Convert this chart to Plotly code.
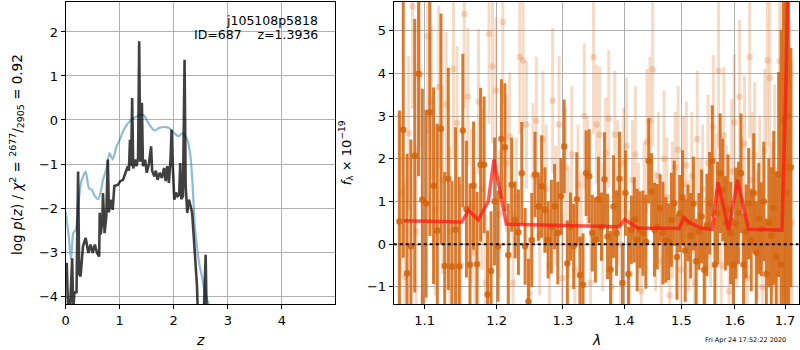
import plotly.graph_objects as go

# ---------------- left panel: log p(z) ----------------
z_black = [0.0, 0.02, 0.05, 0.08, 0.12, 0.14, 0.16, 0.2, 0.23, 0.25,
           0.275, 0.32, 0.37, 0.42, 0.46, 0.5, 0.54, 0.58, 0.62, 0.63,
           0.65, 0.68, 0.69, 0.72, 0.75, 0.78, 0.8, 0.83, 0.87, 0.9,
           0.97, 1.01, 1.06, 1.11, 1.15, 1.17, 1.19, 1.21, 1.23, 1.25,
           1.28, 1.31, 1.34, 1.36, 1.38, 1.41, 1.43, 1.47, 1.5, 1.54,
           1.58, 1.6, 1.64, 1.67, 1.7, 1.74, 1.78, 1.82, 1.85, 1.88,
           1.91, 1.94, 1.96, 1.98, 2.01, 2.04, 2.07, 2.1, 2.12, 2.14,
           2.17, 2.2, 2.22, 2.25, 2.28, 2.31, 2.34, 2.39, 2.43, 2.45,
           2.5, 2.55, 2.59, 2.61, 2.65]
logp_black = [-3.3, -3.25, -4.6, -4.3, -3.14, -4.4, -3.9, -3.93, -1.17, -3.5,
              -3.55, -2.87, -2.68, -3.02, -2.83, -3.02, -2.83, -3.02, -3.1, -2.11,
              -2.6, -2.23, -1.66, -2.57, -2.2, -0.9, -2.1, -1.81, -2.04, -1.5,
              -1.47, -1.39, -1.36, -1.2, -1.05, -1.15, -0.45, -1.05, 0.5, -1.1,
              -0.9, -1.05, -0.85, 1.79, -0.95, 0.39, -1.05, -0.9, -1.2, -1.0,
              -0.6, -1.15, -1.28, -1.15, -1.36, -1.2, -1.32, -1.09, -1.39, -1.05,
              -1.43, -0.9, -0.22, -1.0, -1.81, -1.65, -1.73, -1.7, -0.98, -1.8,
              -1.73, 1.37, -1.5, -2.11, -1.81, -1.95, -2.11, -3.02, -3.78, -4.6,
              -4.6, -4.6, -3.06, -4.6, -4.6]

z_blue = [0.0, 0.05, 0.1, 0.14, 0.19, 0.23, 0.29, 0.37, 0.43, 0.48,
          0.54, 0.6, 0.65, 0.69, 0.75, 0.81, 0.87, 0.94, 1.0, 1.06,
          1.13, 1.21, 1.3, 1.39, 1.45, 1.55, 1.64, 1.73, 1.84, 1.91,
          2.01, 2.09, 2.16, 2.25, 2.31, 2.35, 2.39, 2.43, 2.47, 2.52,
          2.58, 2.64, 2.7]
logp_blue = [-2.08, -2.57, -3.17, -2.57, -2.49, -1.96, -1.39, -1.17, -1.55, -1.58,
             -1.73, -1.8, -1.62, -1.36, -1.13, -0.75, -0.9, -0.6, -0.45, -0.26,
             -0.11, 0.0, 0.07, 0.12, 0.1, -0.11, -0.24, -0.18, -0.16, -0.18,
             -0.3, -0.37, -0.3, -0.45, -0.83, -1.51, -2.42, -2.87, -3.25, -3.55,
             -3.93, -4.16, -4.4]

z_ticks = [0, 1, 2, 3, 4]
logp_ticks = [-4, -3, -2, -1, 0, 1, 2]

# ---------------- right panel: spectrum ----------------
dark_lam = [1.067, 1.072, 1.077, 1.082, 1.087, 1.092, 1.097, 1.102, 1.107, 1.112,
            1.117, 1.122, 1.127, 1.132, 1.137, 1.142, 1.147, 1.152, 1.157, 1.162,
            1.167, 1.172, 1.177, 1.182, 1.187, 1.192, 1.197, 1.202, 1.207, 1.212,
            1.217, 1.222, 1.227, 1.232, 1.237, 1.242, 1.247, 1.252, 1.257, 1.262,
            1.267, 1.272, 1.277, 1.282, 1.287, 1.292, 1.297, 1.302, 1.307, 1.312,
            1.317, 1.322, 1.327, 1.332, 1.337, 1.342, 1.347, 1.352, 1.357, 1.362,
            1.367, 1.372, 1.377, 1.382, 1.387, 1.392, 1.397, 1.402, 1.407, 1.412,
            1.417, 1.422, 1.427, 1.432, 1.437, 1.442, 1.447, 1.452, 1.457, 1.462,
            1.467, 1.472, 1.477, 1.482, 1.487, 1.492, 1.497, 1.502, 1.507, 1.512,
            1.517, 1.522, 1.527, 1.532, 1.537, 1.542, 1.547, 1.552, 1.557, 1.562,
            1.567, 1.572, 1.577, 1.582, 1.587, 1.592, 1.597, 1.602, 1.607, 1.612,
            1.617, 1.622, 1.627, 1.632, 1.637, 1.642, 1.647, 1.652, 1.657, 1.662,
            1.667, 1.672, 1.677, 1.682, 1.687, 1.692, 1.697, 1.702, 1.707, 1.712]
dark_flux = [0.53, 2.68, -0.68, -0.05, 2.07, 3.99, 1.04, 0.95, 3.09, 1.37,
             0.32, 2.70, -0.51, 1.53, -0.52, 0.34, -0.52,
             2.66, 0.82, -0.48, 1.37, -0.47, 1.86, 1.86, -1.18, -0.63, 1.0,
             -0.05, 2.46, 2.27, -0.25,
             1.39, 0.57, 0.28, 1.66, -0.05, -1.34, 0.10, 1.63, 0.88, 1.35, 0.80,
             0.10, 0.41, 0.88, 0.26, 1.12, 2.29, -0.45, 0.41, -0.05, 1.05, -0.72,
             -0.95, 1.66, 1.59, 0.26, 0.10, 1.05, 0.41, 1.52, 0.18, -0.59, 0.88,
             0.26, 1.53, -0.91, 1.20, -0.70, 0.34, 0.57, 0.10, 0.34, 0.26, 0.06,
             1.95, 1.23, 0.34, 0.41, 0.84, 0.26, 0.10, 0.06, 0.57, 0.96, -0.30,
             0.72, 1.10, -0.15, 0.50, 0.20, 0.95, -0.40, 0.30, 0.65, -0.60, 0.45,
             0.96, 1.95, -0.48, 0.73, 1.66, 1.27, 0.49, 0.80, 0.26, -0.48,
             0.49, 0.73, 1.66, -0.48, 0.30, 0.95, 0.10, 1.20, -0.20, 0.60,
             0.35, 1.00, -0.70, 0.50, 0.20, 0.85, -0.30, 1.63,
             -0.48, 2.9, 1.2, 3.0, 1.8]
dark_err = [2.6, 3.0, 2.8, 2.5, 3.2, 2.4, 2.6, 2.2, 2.9, 2.3, 2.5, 2.7, 2.2, 2.6, 2.0, 2.4, 2.1,
            1.8, 1.6, 1.9, 1.5, 1.7, 1.8, 1.6, 1.5, 1.4, 1.5, 1.3, 1.4, 1.5, 1.2,
            1.1, 0.9, 1.0, 1.2, 0.9, 1.0, 1.1, 1.0, 0.8, 1.2, 1.0,
            0.9, 1.1, 1.0, 1.2, 0.9, 1.1, 1.0, 0.8, 1.0, 1.1, 0.9,
            1.2, 1.0, 1.1, 0.9, 1.0, 1.0, 0.8, 1.1, 1.0, 0.9, 1.2,
            1.0, 1.1, 0.9, 1.0, 1.1, 0.8, 1.0, 1.2, 0.9, 1.0, 1.1,
            1.0, 0.9, 1.1, 1.0, 0.8, 1.2, 1.0, 0.9, 1.1, 1.0, 1.0,
            0.9, 1.1, 1.2, 0.9, 1.0, 1.1, 1.0, 0.9, 1.1, 1.0, 1.2,
            1.2, 1.3, 1.1, 1.2, 1.4, 1.2, 1.1, 1.3, 1.2, 1.1, 1.3, 1.2, 1.4, 1.2,
            1.1, 1.3, 1.2, 1.4, 1.2, 1.3, 1.1, 1.4, 1.3, 1.5, 1.6, 1.8, 2.0, 2.4,
            5.5, 6.0, 5.0, 4.5, 2.8]

light_lam = [1.069, 1.074, 1.079, 1.084, 1.089, 1.094, 1.099, 1.104, 1.109, 1.114,
             1.119, 1.124, 1.129, 1.134, 1.139, 1.144, 1.149, 1.154, 1.159, 1.164,
             1.169, 1.174, 1.179, 1.184, 1.189, 1.194, 1.199, 1.204, 1.209, 1.214,
             1.219, 1.224, 1.229, 1.234, 1.239, 1.244, 1.249, 1.254, 1.259, 1.264,
             1.269, 1.274, 1.279, 1.284, 1.289, 1.294, 1.299, 1.304, 1.309, 1.314,
             1.319, 1.324, 1.329, 1.334, 1.339, 1.344, 1.349, 1.354, 1.359, 1.364,
             1.369, 1.374, 1.379, 1.384, 1.389, 1.394, 1.399, 1.404, 1.409, 1.414,
             1.419, 1.424, 1.429, 1.434, 1.439, 1.444, 1.449, 1.454, 1.459, 1.464,
             1.469, 1.474, 1.479, 1.484, 1.489, 1.494, 1.499, 1.504, 1.509, 1.514,
             1.519, 1.524, 1.529, 1.534, 1.539, 1.544, 1.549, 1.554, 1.559, 1.564,
             1.569, 1.574, 1.579, 1.584, 1.589, 1.594, 1.599, 1.604, 1.609, 1.614,
             1.619, 1.624, 1.629, 1.634, 1.639, 1.644, 1.649, 1.654, 1.659, 1.664,
             1.669, 1.674, 1.679, 1.684, 1.689, 1.694, 1.699, 1.704, 1.709, 1.714]
light_flux = [1.2, -0.76, 2.6, 5.57, 0.3, 3.97, -1.3, 4.87, 3.34, 0.8,
              3.68, 1.5, 3.27, 0.3, 4.1, 2.84, -0.5, 5.39, 3.46, 0.9,
              -0.2, 3.34, 1.3, -0.9, 4.92, 4.16, 3.6, 0.7, 5.2, 1.9,
              2.52, -0.91, 1.1, 4.38, 4.3, 2.8, -1.15, 1.6, 2.89, 0.2,
              2.46, 1.3, -0.5, 3.36, 0.9, 2.8, -0.8, 1.8, 0.5, 2.1,
              -0.6, 1.4, 0.1, 3.0, 1.7, -0.9, 4.38, 2.8, 2.56, 0.4,
              2.13, 2.94, -1.0, 2.56, 1.2, 0.0, 1.9, 2.3, -0.7, 1.5,
              2.1, 0.6, -1.1, 1.0, 2.4, 2.89, 4.09, 0.3, 1.6, -0.4,
              2.0, 1.1, -1.2, 0.8, 1.8, 2.21, -0.6, 1.4, 1.84, 0.2,
              1.6, -0.9, 2.46, 0.7, 1.3, -0.3, 1.9, 0.5, 2.73, 1.2,
              4.06, -0.5, 2.54, 0.9, -1.1, 1.7, 2.85, 0.4, 3.45, 1.0,
              2.35, -0.8, 4.38, 1.5, 2.09, 0.2, 1.2, -1.0, 2.2, 4.3,
              3.89, 0.6, 1.74, -0.7, 4.28, 3.9, 1.8, 3.0, 1.74, 0.5]
light_err = [1.9, 2.2, 1.8, 2.4, 2.0, 1.7, 2.1, 2.3, 1.8, 2.0,
             1.9, 2.2, 1.7, 2.0, 2.1, 1.8, 1.9, 2.2, 1.6, 1.8,
             2.0, 1.7, 1.9, 1.6, 2.1, 1.8, 1.7, 1.5, 1.9, 1.6,
             1.5, 1.7, 1.4, 1.8, 1.6, 1.5, 1.3, 1.7, 1.5, 1.4,
             1.6, 1.5, 1.3, 1.7, 1.4, 1.6, 1.5, 1.4, 1.3, 1.6,
             1.5, 1.4, 1.6, 1.7, 1.3, 1.5, 1.8, 1.4, 1.6, 1.5,
             1.3, 1.6, 1.4, 1.5, 1.7, 1.4, 1.3, 1.6, 1.5, 1.4,
             1.6, 1.3, 1.5, 1.4, 1.7, 1.5, 1.8, 1.4, 1.5, 1.3,
             1.6, 1.4, 1.5, 1.6, 1.3, 1.5, 1.4, 1.6, 1.5, 1.3,
             1.5, 1.4, 1.6, 1.3, 1.5, 1.4, 1.6, 1.5, 1.7, 1.4,
             1.8, 1.5, 1.6, 1.4, 1.5, 1.7, 1.6, 1.4, 1.8, 1.5,
             1.6, 1.5, 1.9, 1.6, 1.7, 1.5, 1.8, 1.6, 1.9, 2.0,
             2.1, 1.8, 2.0, 2.2, 2.6, 2.8, 3.0, 3.2, 3.5, 3.8]

model_lam = [1.0726, 1.1504, 1.160, 1.1737, 1.188, 1.196, 1.2142, 1.3916, 1.4009,
             1.4229, 1.4956, 1.5046, 1.5136, 1.535, 1.5567, 1.568, 1.588, 1.6053,
             1.6266, 1.6937, 1.7025, 1.706]
model_flux = [0.55, 0.52, 0.79, 0.57, 1.0, 1.98, 0.47, 0.41, 0.58,
              0.38, 0.37, 0.62, 0.52, 0.38, 0.35, 1.45, 0.33, 1.5,
              0.35, 0.33, 4.0, 6.0]

lam_ticks = [1.1, 1.2, 1.3, 1.4, 1.5, 1.6, 1.7]
flux_ticks = [-1, 0, 1, 2, 3, 4, 5]
zero_level = 0


def trim(*arrs):
    n = min(len(a) for a in arrs)
    return [a[:n] for a in arrs]


dark_lam, dark_flux, dark_err = trim(dark_lam, dark_flux, dark_err)
light_lam, light_flux, light_err = trim(light_lam, light_flux, light_err)

FONT = "DejaVu Sans"
fig = go.Figure()

# left panel
fig.add_trace(go.Scatter(x=z_blue, y=logp_blue, mode="lines", xaxis="x", yaxis="y",
                         line=dict(color="rgba(31,119,180,0.5)", width=2.2, shape="spline", smoothing=0.6),
                         showlegend=False, hoverinfo="skip"))
fig.add_trace(go.Scatter(x=z_black, y=logp_black, mode="lines", xaxis="x", yaxis="y",
                         line=dict(color="rgba(0,0,0,0.75)", width=2.6),
                         showlegend=False, hoverinfo="skip"))

# right panel
LIGHT = "rgba(220,110,30,0.25)"
DARK = "rgba(212,100,12,0.85)"
fig.add_trace(go.Scatter(x=light_lam, y=light_flux, mode="markers", xaxis="x2", yaxis="y2",
                         marker=dict(color=LIGHT, size=6.5),
                         error_y=dict(type="data", array=light_err, color=LIGHT, thickness=3, width=0),
                         showlegend=False, hoverinfo="skip"))
fig.add_trace(go.Scatter(x=dark_lam, y=dark_flux, mode="markers", xaxis="x2", yaxis="y2",
                         marker=dict(color=DARK, size=6.5),
                         error_y=dict(type="data", array=dark_err, color=DARK, thickness=3, width=0),
                         showlegend=False, hoverinfo="skip"))
fig.add_trace(go.Scatter(x=model_lam, y=model_flux, mode="lines", xaxis="x2", yaxis="y2",
                         line=dict(color="rgba(255,20,20,0.7)", width=3.5),
                         showlegend=False, hoverinfo="skip"))

fig.add_shape(type="line", xref="x2 domain", yref="y2", x0=0, x1=1, y0=zero_level, y1=zero_level,
              line=dict(color="black", width=2, dash="dot"), layer="above")

axis_common = dict(showgrid=True, gridcolor="#b0b0b0", gridwidth=1, zeroline=False,
                   showline=True, linecolor="black", linewidth=1, mirror=True,
                   ticks="outside", ticklen=4, tickcolor="black",
                   tickfont=dict(family=FONT, size=13, color="black"))

ydom = [46 / 350, 348 / 350]
fig.update_layout(
    width=800, height=350,
    margin=dict(l=0, r=0, t=0, b=0),
    paper_bgcolor="white", plot_bgcolor="white",
    font=dict(family=FONT, size=13, color="black"),
    xaxis=dict(domain=[62 / 800, 333 / 800], range=[0, 4.99], tickvals=z_ticks,
               anchor="y", **axis_common),
    yaxis=dict(domain=ydom, range=[-4.18, 2.68], tickvals=logp_ticks, anchor="x",
               **axis_common),
    xaxis2=dict(domain=[391.7 / 800, 798.5 / 800], type="log", range=[0.02521, 0.23753],
                tickvals=lam_ticks, ticktext=[str(v) for v in lam_ticks], anchor="y2",
                **axis_common),
    yaxis2=dict(domain=ydom, range=[-1.4, 5.67], tickvals=flux_ticks, anchor="x2",
                **axis_common),
)

ann = []
ann.append(dict(text="j105108p5818", x=318 / 800, y=1 - 20.5 / 350, xref="paper", yref="paper",
                xanchor="right", yanchor="middle", showarrow=False, font=dict(size=12.5)))
ann.append(dict(text="ID=687    z=1.3936", x=318 / 800, y=1 - 34.5 / 350, xref="paper", yref="paper",
                xanchor="right", yanchor="middle", showarrow=False, font=dict(size=12.5)))
ann.append(dict(text="<i>z</i>", x=197 / 800, y=1 - 340 / 350, xref="paper", yref="paper",
                xanchor="center", yanchor="middle", showarrow=False, font=dict(size=14)))
ann.append(dict(text="<i>λ</i>", x=595 / 800, y=1 - 340 / 350, xref="paper", yref="paper",
                xanchor="center", yanchor="middle", showarrow=False, font=dict(size=14)))
ann.append(dict(text="log <i>p</i>(<i>z</i>) / <i>χ</i><sup>2</sup> = <sup>2677</sup>/<sub>2905</sub> = 0.92",
                x=13 / 800, y=1 - 154 / 350, xref="paper", yref="paper", textangle=-90,
                xanchor="center", yanchor="middle", showarrow=False, font=dict(size=13.5)))
ann.append(dict(text="<i>f</i><sub>λ</sub> × 10<sup>−19</sup>",
                x=344 / 800, y=1 - 153 / 350, xref="paper", yref="paper", textangle=-90,
                xanchor="center", yanchor="middle", showarrow=False, font=dict(size=13)))
ann.append(dict(text="Fri Apr 24 17:52:22 2020", x=788 / 800, y=1 - 340 / 350, xref="paper", yref="paper",
                xanchor="right", yanchor="middle", showarrow=False, font=dict(size=6.5)))
fig.update_layout(annotations=ann)

fig.write_html("out.html", config={"displayModeBar": False},
               post_script="document.body.style.margin='0';document.body.style.overflow='hidden';")
